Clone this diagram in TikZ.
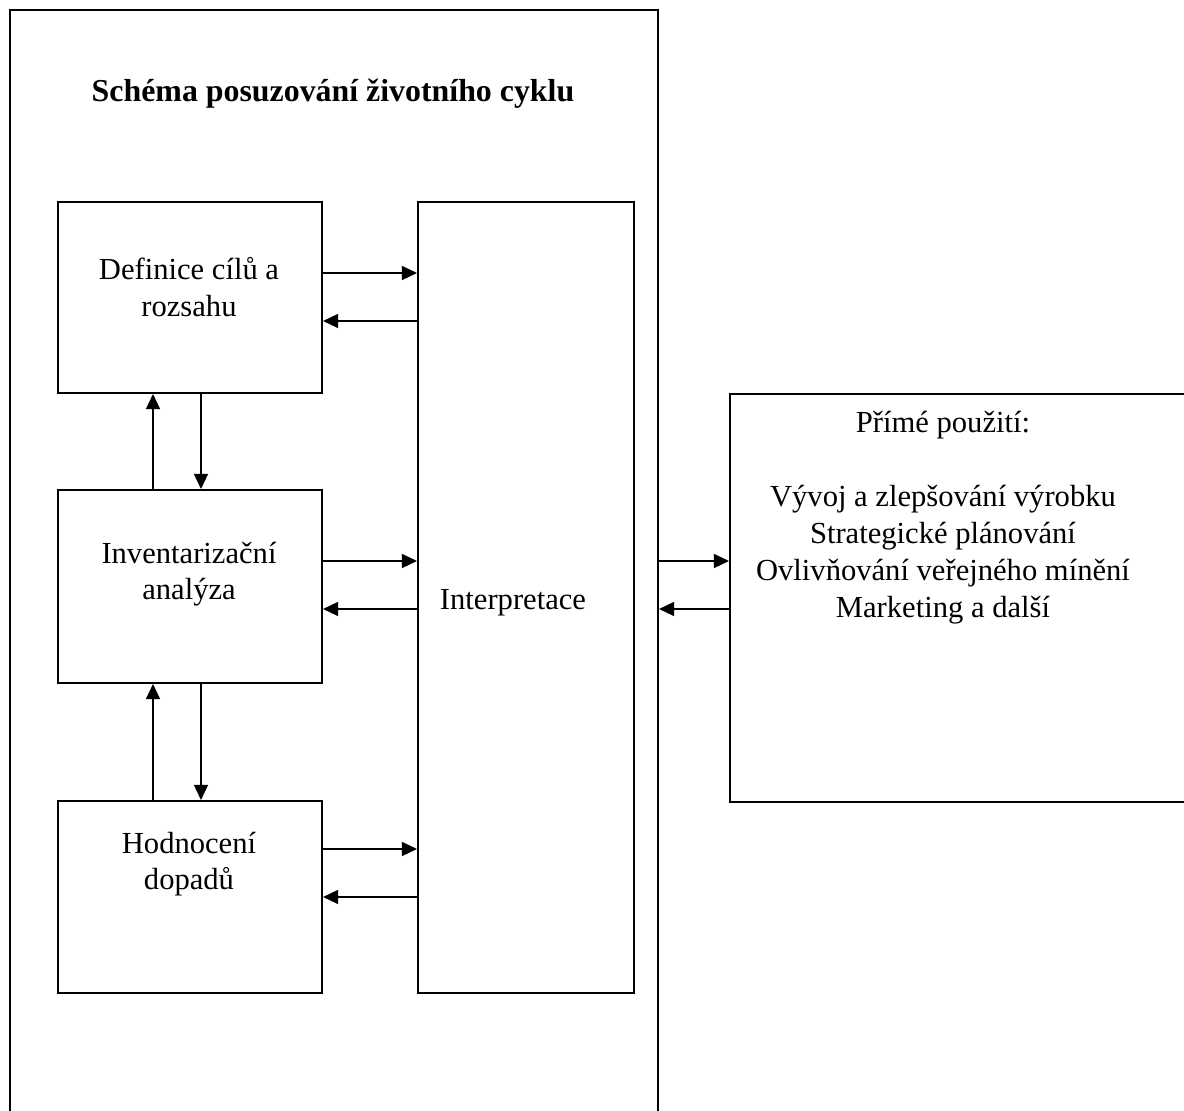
\documentclass[tikz,border=0pt]{standalone}
\usepackage{fontspec}
\setmainfont{Liberation Serif}
\usetikzlibrary{arrows.meta}
\begin{document}
\begin{tikzpicture}[x=0.3922pt,y=-0.3922pt,
  box/.style={draw, line width=0.8pt, inner sep=0pt, anchor=north west},
  txt/.style={align=center, font=\fontsize{12pt}{14.2pt}\selectfont, inner sep=0pt},
  arr/.style={line width=0.55pt, -{Triangle[length=5.9pt,width=5.5pt]}}]
\useasboundingbox (0,0) rectangle (1184,1111);
\clip (0,0) rectangle (1184,1111);
% outer frame
\node[box, minimum width=648*0.3922pt, minimum height=1140*0.3922pt] (frame) at (9,9) {};
% boxes
\node[box, minimum width=264*0.3922pt, minimum height=191*0.3922pt] (b1) at (57,201) {};
\node[box, minimum width=264*0.3922pt, minimum height=193*0.3922pt] (b2) at (57,489) {};
\node[box, minimum width=264*0.3922pt, minimum height=192*0.3922pt] (b3) at (57,800) {};
\node[box, minimum width=216*0.3922pt, minimum height=791*0.3922pt] (interp) at (417,201) {};
\node[box, minimum width=480*0.3922pt, minimum height=408*0.3922pt] (rb) at (729,393) {};
% texts
\node[txt, font=\fontsize{12.5pt}{14.5pt}\selectfont\bfseries] (title) at (333,94) {Schéma posuzování životního cyklu};
\node[txt] (t1) at (189,287) {Definice cílů a\\rozsahu};
\node[txt] (t2) at (189,574) {Inventarizační\\analýza};
\node[txt] (t3) at (189,864) {Hodnocení\\dopadů};
\node[txt] (t4) at (513,603) {Interpretace};
\node[txt] (t5) at (943,425) {Přímé použití:};
\node[txt, font=\fontsize{12pt}{14.5pt}\selectfont] (t6) at (943,555) {Vývoj a zlepšování výrobku\\Strategické plánování\\Ovlivňování veřejného mínění\\Marketing a další};
% horizontal arrows
\draw[arr] (b1.east |- 0,273) -- (interp.west |- 0,273);
\draw[arr] (interp.west |- 0,321) -- (b1.east |- 0,321);
\draw[arr] (b2.east |- 0,561) -- (interp.west |- 0,561);
\draw[arr] (interp.west |- 0,609) -- (b2.east |- 0,609);
\draw[arr] (b3.east |- 0,849) -- (interp.west |- 0,849);
\draw[arr] (interp.west |- 0,897) -- (b3.east |- 0,897);
\draw[arr] (frame.east |- 0,561) -- (rb.west |- 0,561);
\draw[arr] (rb.west |- 0,609) -- (frame.east |- 0,609);
% vertical arrows
\draw[arr] (b2.north -| 153,0) -- (b1.south -| 153,0);
\draw[arr] (b1.south -| 201,0) -- (b2.north -| 201,0);
\draw[arr] (b3.north -| 153,0) -- (b2.south -| 153,0);
\draw[arr] (b2.south -| 201,0) -- (b3.north -| 201,0);
\end{tikzpicture}
\end{document}
